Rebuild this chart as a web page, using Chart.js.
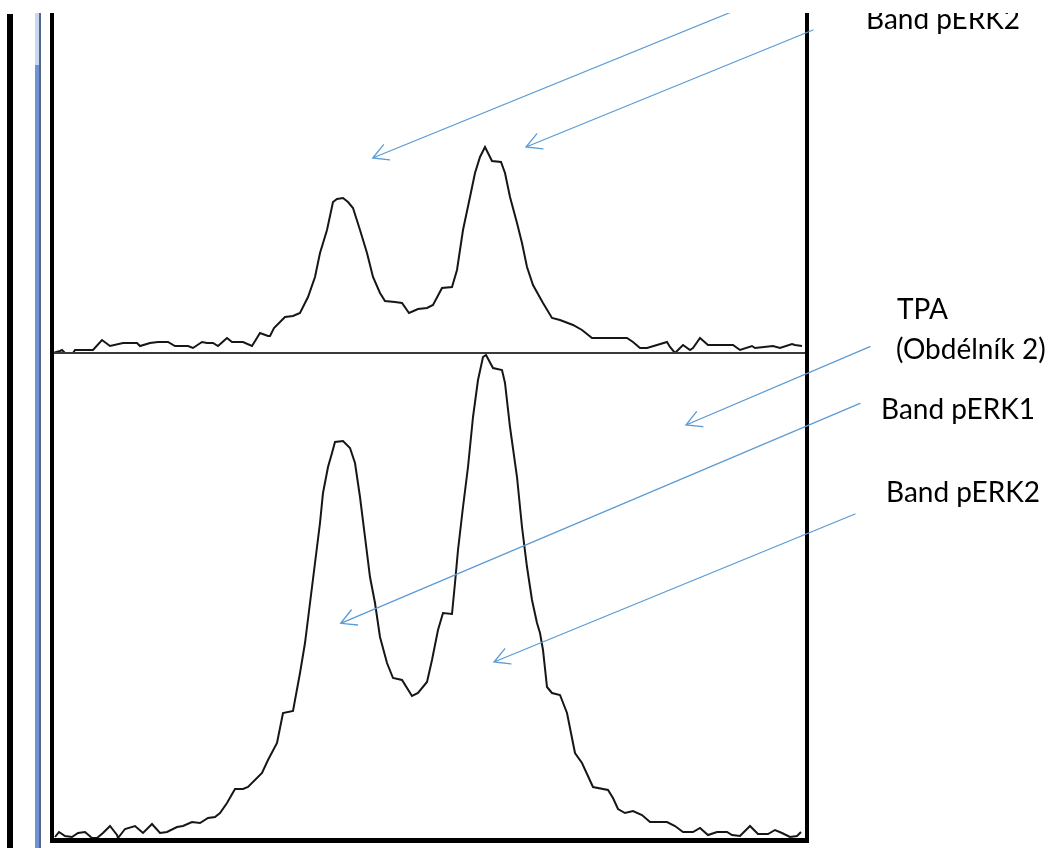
<!DOCTYPE html>
<html>
<head>
<meta charset="utf-8">
<script src="https://cdn.jsdelivr.net/npm/chart.js@4.4.1/dist/chart.umd.min.js"></script>
<style>
html,body{margin:0;padding:0;background:#fff;}
#wrap{position:relative;width:1063px;height:848px;overflow:hidden;background:#fff;}
#c{position:absolute;left:0;top:0;}
.lbl{position:absolute;font-family:Lato,"Open Sans",sans-serif;font-size:28px;line-height:28px;color:#000;white-space:nowrap;}
#mask{position:absolute;left:0;top:0;width:1063px;height:13px;background:#fff;z-index:5;}
</style>
</head>
<body>
<div id="wrap">
  <canvas id="c" width="1063" height="848"></canvas>
  <div id="labels"></div>
  <div id="mask"></div>
</div>
<script>
// ---- Data: densitometry profiles (position along lane, intensity) ----
const topPos = [1,8,10,13,21,23,41,50,58,71,85,88,98,106,116,123,136,141,150,155,161,166,175,180,191,200,208,216,218,222,233,241,248,256,263,268,275,281,285,291,296,301,308,315,321,328,333,343,350,357,366,375,381,390,400,405,411,418,423,428,433,440,449,453,458,465,470,475,481,491,500,508,521,530,540,575,581,588,595,605,615,618,623,631,638,641,648,656,681,688,700,703,721,728,740,743,750];
const topVal = [0,2,3,0,0,3,3,13,7,10,10,7,10,11,11,7,7,5,11,10,10,7,15,11,11,7,20,17,17,25,36,37,40,56,76,100,123,151,154,155,151,145,123,100,76,60,52,51,50,40,44,45,48,65,66,83,123,156,180,196,206,192,191,180,156,130,110,86,68,50,35,33,28,23,15,15,11,5,5,8,11,6,0,8,3,5,15,8,8,3,7,5,7,5,9,8,7];

const bottomPos = [3,7,13,20,26,33,40,45,51,58,65,66,73,83,91,100,108,115,125,131,140,148,156,163,168,175,183,191,196,210,216,225,231,241,248,253,258,263,268,271,276,280,283,291,298,303,308,313,318,323,328,335,341,350,360,366,375,380,386,391,400,403,406,411,416,421,426,431,434,441,450,453,458,465,470,475,480,485,488,491,495,500,508,515,523,530,541,556,561,566,573,581,590,598,615,623,631,641,648,656,665,675,680,688,698,706,716,723,730,738,745,749];
const bottomVal = [3,8,4,3,7,8,2,2,7,14,5,2,11,14,7,16,7,8,13,14,18,17,22,23,27,37,51,51,53,67,80,97,127,129,167,197,237,277,317,347,373,387,398,399,392,377,343,303,263,237,203,177,162,160,144,147,158,180,210,227,226,257,290,333,373,423,460,483,485,472,470,457,413,363,313,273,240,217,207,190,153,147,145,127,87,77,53,50,42,31,27,29,25,18,18,14,8,8,12,5,8,8,5,4,14,6,6,10,7,3,4,8];

const xRange = [0, 755];
const topRange = [0, 340];
const bottomRange = [0, 487];

const labelTexts = ['Band pERK2', 'TPA', '(Obdélník 2)', 'Band pERK1', 'Band pERK2'];

// ---- Layout (pixel positions of annotations) ----
const labelBoxes = [[866,4],[897,294],[896,334],[881,394],[886,477]];
const arrowGeom = [
  [[761,0],[372.7,158]],
  [[813,30],[526,147]],
  [[870,346.7],[686,425]],
  [[860,403.3],[340.7,623.3]],
  [[855,514],[494,662]]
];

const labelsDiv = document.getElementById('labels');
labelTexts.forEach((t,i)=>{
  const d = document.createElement('div');
  d.className = 'lbl';
  d.textContent = t;
  d.style.left = labelBoxes[i][0] + 'px';
  d.style.top = labelBoxes[i][1] + 'px';
  labelsDiv.appendChild(d);
});

const decor = {
  id: 'decor',
  afterDraw(chart) {
    const ctx = chart.ctx, a = chart.chartArea;
    const sepY = chart.scales.yTop.bottom;
    ctx.save();
    // separator between the two profiles
    ctx.fillStyle = '#3a3a3a';
    ctx.fillRect(a.left, sepY - 1, a.right - a.left, 2);
    // frame
    ctx.fillStyle = '#000';
    ctx.fillRect(a.left - 2, a.top, 4, a.bottom - a.top + 3);
    ctx.fillRect(a.right - 2, a.top, 4, a.bottom - a.top + 3);
    ctx.fillRect(a.left - 2, a.bottom - 2, a.right - a.left + 4, 5);
    // left decorative bars
    ctx.fillRect(7, a.top + 1, 6, 848);
    ctx.fillStyle = '#cad7ee';
    ctx.fillRect(35, a.top, 4, 52);
    ctx.fillStyle = '#7094cf';
    ctx.fillRect(35, a.top + 52, 4, 848);
    ctx.fillStyle = '#55678a';
    ctx.fillRect(39, a.top, 2, 848);
    // arrows
    ctx.strokeStyle = '#5B9BD5';
    ctx.lineWidth = 1.3;
    ctx.lineCap = 'round';
    arrowGeom.forEach(([f, t]) => {
      ctx.beginPath();
      ctx.moveTo(f[0], f[1]);
      ctx.lineTo(t[0], t[1]);
      const ang = Math.atan2(f[1] - t[1], f[0] - t[0]);
      const L = 17, s = 0.5;
      ctx.moveTo(t[0] + L * Math.cos(ang + s), t[1] + L * Math.sin(ang + s));
      ctx.lineTo(t[0], t[1]);
      ctx.lineTo(t[0] + L * Math.cos(ang - s), t[1] + L * Math.sin(ang - s));
      ctx.stroke();
    });
    ctx.restore();
  }
};

new Chart(document.getElementById('c'), {
  type: 'line',
  data: {
    datasets: [
      {
        label: 'Kontrola',
        data: topPos.map((x, i) => ({x: x, y: topVal[i]})),
        yAxisID: 'yTop',
        borderColor: '#161616',
        borderWidth: 2,
        pointRadius: 0,
        tension: 0,
        fill: false
      },
      {
        label: 'TPA',
        data: bottomPos.map((x, i) => ({x: x, y: bottomVal[i]})),
        yAxisID: 'yBottom',
        borderColor: '#161616',
        borderWidth: 2,
        pointRadius: 0,
        tension: 0,
        fill: false
      }
    ]
  },
  options: {
    responsive: false,
    animation: false,
    layout: { padding: { left: 52, right: 256, top: 13, bottom: 8 } },
    plugins: { legend: { display: false }, tooltip: { enabled: false } },
    scales: {
      x: { type: 'linear', min: xRange[0], max: xRange[1], display: false },
      yBottom: { type: 'linear', position: 'left', stack: 'panels', stackWeight: bottomRange[1], min: bottomRange[0], max: bottomRange[1], display: false },
      yTop: { type: 'linear', position: 'left', stack: 'panels', stackWeight: topRange[1], min: topRange[0], max: topRange[1], display: false }
    }
  },
  plugins: [decor]
});
</script>
</body>
</html>
